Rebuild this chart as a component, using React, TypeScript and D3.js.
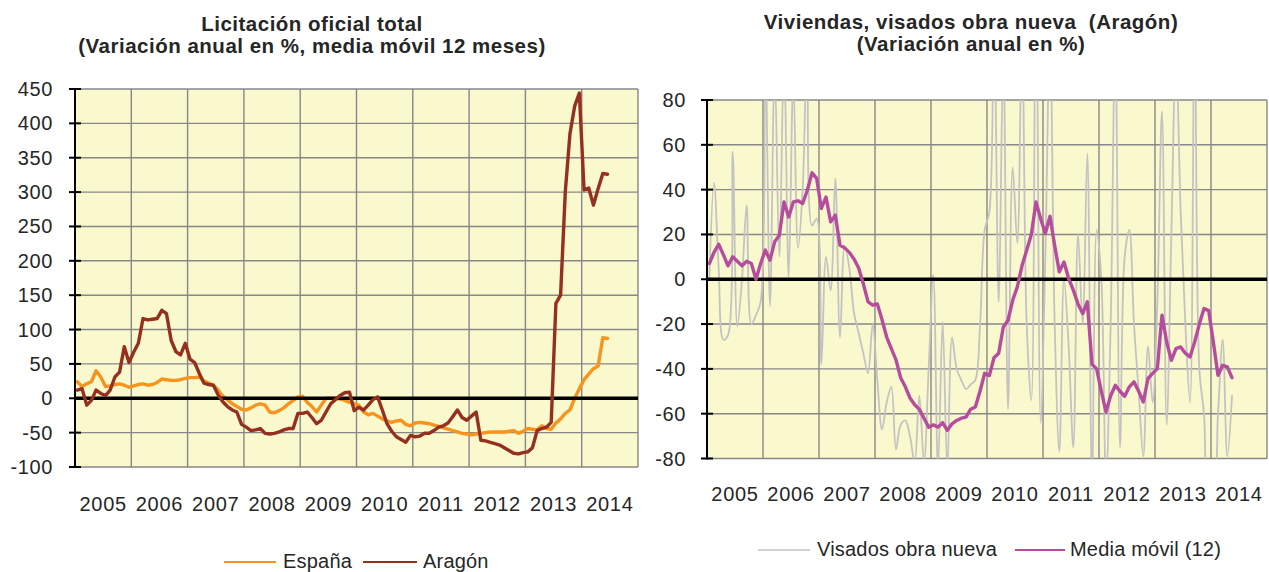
import React from "react";
import * as d3 from "d3";

// monthly data, Jan 2005 onwards
const years = ["2005", "2006", "2007", "2008", "2009", "2010", "2011", "2012", "2013", "2014"];
const leftTicks = [450, 400, 350, 300, 250, 200, 150, 100, 50, 0, -50, -100];
const rightTicks = [80, 60, 40, 20, 0, -20, -40, -60, -80];

const espana = [
  24, 17, 21, 24, 40, 31, 17, 18, 20, 21, 19, 16,
  18, 20, 21, 19, 20, 23, 28, 27, 26, 26, 27, 29,
  30, 30, 31, 25, 22, 19, 12, 3, -2, -8, -12, -16,
  -17, -14, -10, -8, -10, -20, -21, -18, -14, -8, -3, 2,
  3, -6, -12, -20, -10, 0, 0, 0, -1, -3, -6, -8,
  -10, -20, -24, -22, -26, -30, -33, -35, -33, -32, -38, -40,
  -36, -35, -36, -37, -39, -41, -43, -45, -47, -49, -51, -52,
  -53, -52, -51, -50, -49, -49, -49, -49, -48, -47, -51, -48,
  -44, -45, -46, -40, -44, -45, -36, -30, -22, -17, 0, 14,
  27, 35, 43, 47, 88, 87,
];

const aragon = [
  12, 14, -10, -3, 12, 7, 4, 12, 31, 38, 75, 52,
  67, 80, 116, 114, 115, 116, 128, 123, 84, 68, 63, 80,
  57, 52, 36, 22, 20, 19, 5, -5, -12, -17, -20, -38,
  -42, -47, -46, -44, -51, -52, -51, -49, -46, -44, -44, -22,
  -22, -20, -28, -37, -32, -20, -8, -2, 4, 8, 9, -18,
  -13, -17, -10, -2, 2, -17, -37, -48, -56, -60, -64, -54,
  -56, -55, -51, -51, -47, -42, -40, -36, -27, -17, -28, -32,
  -26, -20, -61, -62, -64, -66, -68, -72, -76, -80, -81, -79,
  -78, -72, -47, -44, -42, -35, 138, 150, 300, 385, 425, 444,
  303, 306, 281, 305, 327, 326,
];

const visados = [
  0, 43, 5, -27, -25, 57, -21, 0, 33, -20, -16, -10,
  100, -12, 95, 10, 100, 1, 90, 14, 40, 110, 24, 27,
  -38, 10, -5, 45, -26, 15, 5, -15, -24, -33, -42, -20,
  -45, -67, -55, -48, -76, -65, -63, -70, -82, -52, -82, -40,
  2, -85, -19, -85, -26, -40, -45, -49, -47, -45, -21, 22,
  30, 120, -10, 100, -58, 50, 16, 110, -20, -54, 150, -64,
  10, 110, -20, -77, 0, -30, -75, 20, -20, 56, -90, 22,
  0, -90, -20, 110, -75, 10, 22, -20, -50, -79, -30, -55,
  -10, 75, -65, 20, 100, 30, -20, -55, 120, -40, -60, -90,
  -90, -60, -27, -79, -52,
];

const mediaMovil = [
  7, 12, 15.6, 11, 6, 10, 8, 6, 8, 7, 0, 7,
  13, 8.5, 16.7, 19.6, 34.5, 27.8, 34.5, 35, 33.8, 39.7, 47.5, 45,
  31.6, 36.7, 25.6, 28.6, 15.2, 14, 12, 9, 5, -2, -10, -11.6,
  -11, -18, -25.8, -31, -36, -44, -48, -53, -56, -58, -62, -66,
  -65, -66, -64, -67.4, -64.5, -63, -62, -61.5, -58, -57, -50, -42,
  -43, -35, -33, -21.3, -18.3, -9.4, -3.4, 6, 12.9, 20, 34.5, 27,
  20.4, 28.1, 15, 3.3, 7.7, 0.3, -4.9, -11, -15.3, -10.1, -38, -40,
  -50, -59.2, -52, -47.3, -50, -52.2, -48, -45.8, -50, -54.8, -44.3, -42,
  -39.9, -16, -28, -36.2, -31, -30.2, -33, -34.7, -28, -20, -13.1, -14,
  -28, -42.9, -38.4, -39.1, -43.9,
];

const FONT = "'Liberation Sans', Arial, Helvetica, sans-serif";
const TEXT = "#262626";

type Series = {
  name: string;
  values: number[];
  color: string;
  width: number;
  legendWidth: number;
  smooth?: boolean;
};

type PanelProps = {
  id: string;
  left: number;
  right: number;
  top: number;
  bottom: number;
  domain: [number, number];
  ticks: number[];
  series: Series[];
  titles: string[];
  titleX: number;
  titleY: number[];
  labelRight: number;
  yearY: number;
  legendY: number;
  legendX: { x1: number; x2: number; tx: number }[];
};

function Panel(p: PanelProps) {
  const x = d3.scaleLinear().domain([0, 120]).range([p.left, p.right]);
  const y = d3.scaleLinear().domain(p.domain).range([p.bottom, p.top]);
  const makeLine = (smooth?: boolean) =>
    d3
      .line<number>()
      .x((d, i) => x(i + 0.5))
      .y((d) => y(d))
      .curve(smooth ? d3.curveCatmullRom.alpha(0.5) : d3.curveLinear);
  const clipId = p.id + "-clip";

  const seriesPath = (s: Series) => (
    <path
      key={s.name}
      d={makeLine(s.smooth)(s.values) || ""}
      fill="none"
      stroke={s.color}
      strokeWidth={s.width}
      strokeLinejoin="round"
      strokeLinecap="round"
    />
  );

  return (
    <g>
      <defs>
        <clipPath id={clipId}>
          <rect x={p.left} y={p.top} width={p.right - p.left} height={p.bottom - p.top} />
        </clipPath>
      </defs>
      <rect x={p.left} y={p.top} width={p.right - p.left} height={p.bottom - p.top} fill="#FAF8CD" />
      {p.ticks.map((t) => (
        <line key={"h" + t} x1={p.left} x2={p.right} y1={y(t)} y2={y(t)} stroke="#878787" strokeWidth={1.4} />
      ))}
      {d3.range(1, 11).map((k) => (
        <line key={"v" + k} x1={x(k * 12)} x2={x(k * 12)} y1={p.top} y2={p.bottom} stroke="#878787" strokeWidth={1.4} />
      ))}
      <g clipPath={`url(#${clipId})`}>{p.series.slice(0, 1).map(seriesPath)}</g>
      <line x1={p.left} x2={p.right} y1={y(0)} y2={y(0)} stroke="#000" strokeWidth={3.4} />
      <g clipPath={`url(#${clipId})`}>{p.series.slice(1).map(seriesPath)}</g>
      <line x1={p.left} x2={p.left} y1={p.top - 1} y2={p.bottom + 1} stroke="#000" strokeWidth={2} />
      {p.ticks.map((t) => (
        <g key={"t" + t}>
          <line x1={p.left - 6} x2={p.left + 6} y1={y(t)} y2={y(t)} stroke="#000" strokeWidth={2} />
          <text x={p.labelRight} y={y(t) + 7} textAnchor="end" fontSize={20} letterSpacing={0.6} fill={TEXT}>
            {t}
          </text>
        </g>
      ))}
      {years.map((yr, k) => (
        <text key={yr} x={x(k * 12 + 6)} y={p.yearY} textAnchor="middle" fontSize={20} letterSpacing={0.7} fill={TEXT}>
          {yr}
        </text>
      ))}
      {p.titles.map((t, i) => (
        <text
          key={t}
          x={p.titleX}
          y={p.titleY[i]}
          textAnchor="middle"
          fontSize={20.5}
          fontWeight="bold"
          letterSpacing={0.5}
          fill={TEXT}
          style={{ whiteSpace: "pre" }}
        >
          {t}
        </text>
      ))}
      {p.series.map((s, i) => (
        <g key={"l" + s.name}>
          <line
            x1={p.legendX[i].x1}
            x2={p.legendX[i].x2}
            y1={p.legendY - 6}
            y2={p.legendY - 6}
            stroke={s.color}
            strokeWidth={s.legendWidth}
          />
          <text x={p.legendX[i].tx} y={p.legendY} fontSize={20} letterSpacing={0.2} fill={TEXT}>
            {s.name}
          </text>
        </g>
      ))}
    </g>
  );
}

export default function App() {
  return (
    <svg
      width={1269}
      height={572}
      style={{ position: "absolute", left: 0, top: 0, background: "#fff" }}
      fontFamily={FONT}
    >
      <Panel
        id="lic"
        left={75}
        right={638}
        top={89}
        bottom={467}
        domain={[-100, 450]}
        ticks={leftTicks}
        series={[
          { name: "España", values: espana, color: "#F7941E", width: 3.4, legendWidth: 2.2 },
          { name: "Aragón", values: aragon, color: "#95301F", width: 3.4, legendWidth: 2.2 },
        ]}
        titles={["Licitación oficial total", "(Variación anual en %, media móvil 12 meses)"]}
        titleX={312}
        titleY={[31, 53]}
        labelRight={53}
        yearY={511}
        legendY={568}
        legendX={[
          { x1: 224, x2: 276, tx: 283 },
          { x1: 363, x2: 417, tx: 423 },
        ]}
      />
      <Panel
        id="viv"
        left={707}
        right={1267}
        top={100}
        bottom={458.5}
        domain={[-80, 80]}
        ticks={rightTicks}
        series={[
          { name: "Visados obra nueva", values: visados, color: "#C3C3C3", width: 1.8, legendWidth: 1.6, smooth: true },
          { name: "Media móvil (12)", values: mediaMovil, color: "#B64C9E", width: 3.4, legendWidth: 2 },
        ]}
        titles={["Viviendas, visados obra nueva  (Aragón)", "(Variación anual en %)"]}
        titleX={971}
        titleY={[29, 51]}
        labelRight={686}
        yearY={501}
        legendY={556}
        legendX={[
          { x1: 758, x2: 810, tx: 817 },
          { x1: 1015, x2: 1065, tx: 1070 },
        ]}
      />
    </svg>
  );
}
